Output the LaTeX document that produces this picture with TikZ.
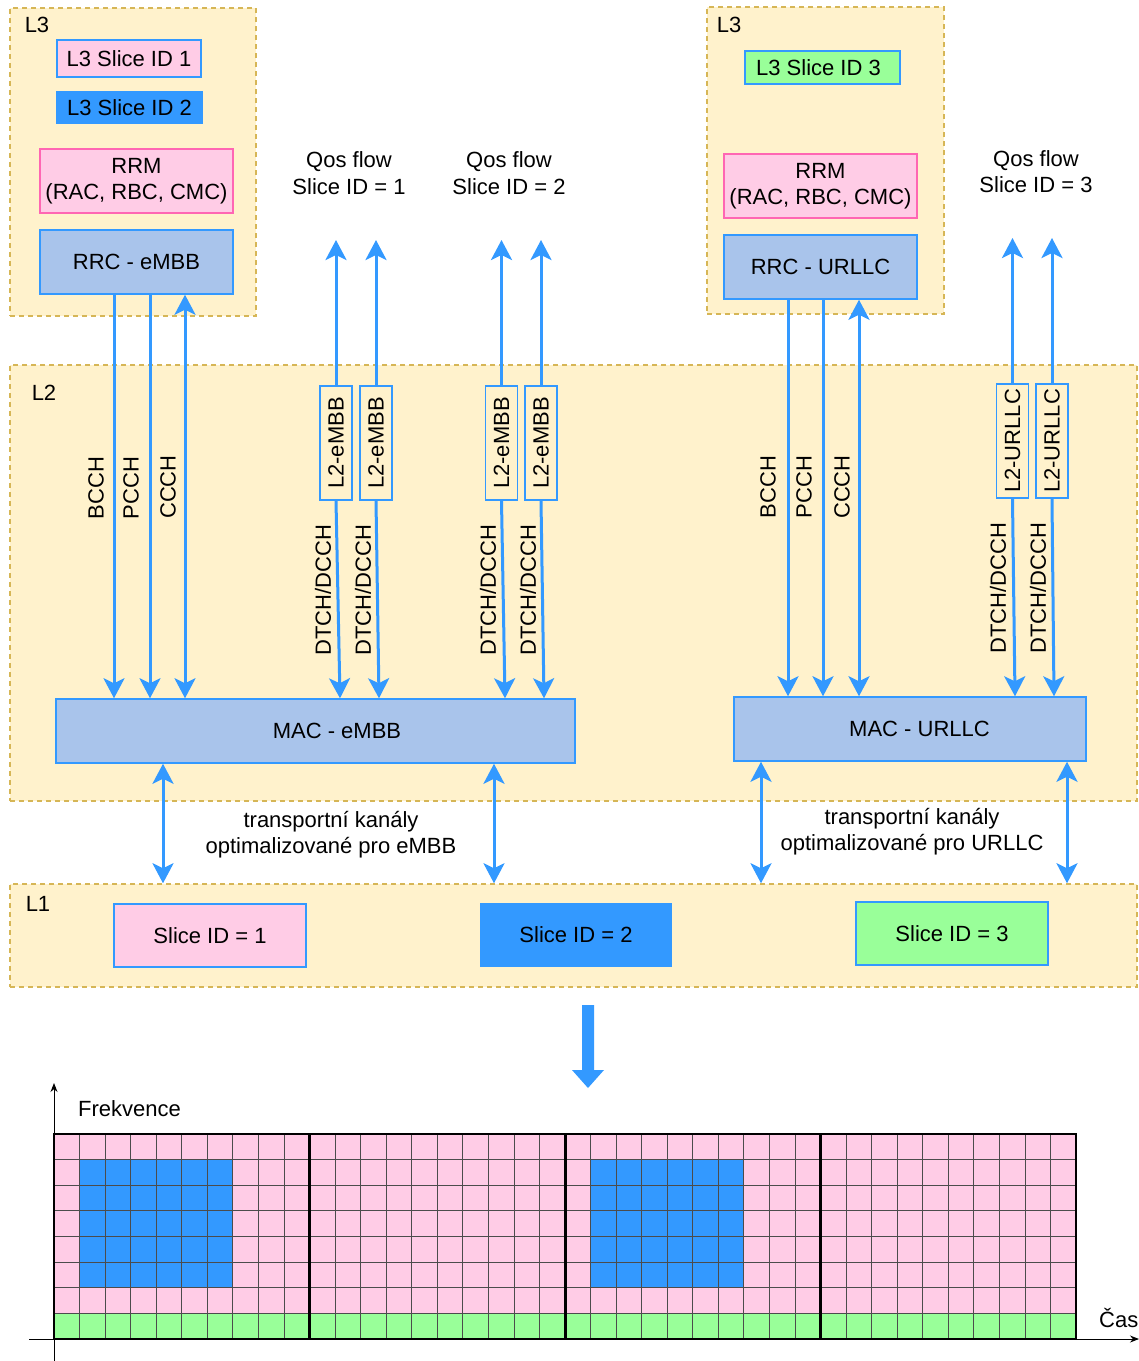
\documentclass[tikz,border=0pt]{standalone}
\usepackage{fontspec}
\setmainfont{Liberation Sans}
\usetikzlibrary{arrows.meta,calc}
\definecolor{lay}{HTML}{FFF2CC}
\definecolor{layb}{HTML}{D6B656}
\definecolor{bl}{HTML}{3399FF}
\definecolor{pk}{HTML}{FFCCE6}
\definecolor{pkb}{HTML}{FF66B3}
\definecolor{rrcc}{HTML}{A9C4EB}
\definecolor{gr}{HTML}{99FF99}
\begin{document}
\begin{tikzpicture}[x=1pt,y=-1pt,
 every node/.style={font=\fontsize{22}{26.5}\selectfont, inner sep=0pt, text=black},
 layer/.style={draw=layb, fill=lay, dash pattern=on 5pt off 4pt, line width=1.5pt},
 bx/.style={draw=bl, line width=1.5pt},
 tipA/.tip={Stealth[length=20pt,width=21pt,inset=5pt]},
 dn/.style={draw=bl, line width=3pt, -tipA},
 bi/.style={draw=bl, line width=3pt, tipA-tipA},
 small/.style={bx, fill=lay, rotate=90, minimum width=114pt, minimum height=32pt},
 lbl/.style={rotate=90}
]
\useasboundingbox (0,0) rectangle (1139,1361);
% layers
\node[layer, minimum width=246pt, minimum height=308pt] (l3a) at (133,162) {};
\node[layer, minimum width=237pt, minimum height=307pt] (l3b) at (825.5,160.5) {};
\node[layer, minimum width=1127pt, minimum height=436pt] (l2) at (573.5,583) {};
\node[layer, minimum width=1127pt, minimum height=103pt] (l1) at (573.5,935.5) {};
\node (t3a) at (37,25) {L3};
\node (t3b) at (729,25) {L3};
\node (t2) at (44,393) {L2};
\node (t1) at (38,904) {L1};
% L3 left
\node[bx, fill=pk, minimum width=144pt, minimum height=37pt] (s1) at (129,58.5) {L3 Slice ID 1};
\node[fill=bl, minimum width=147pt, minimum height=33pt] (s2) at (129.5,107.5) {L3 Slice ID 2};
\node[draw=pkb, line width=1.5pt, fill=pk, minimum width=193pt, minimum height=64pt, align=center] (rrmA) at (136.5,181) {RRM\\(RAC, RBC, CMC)};
\node[bx, fill=rrcc, minimum width=193pt, minimum height=64pt] (rrcA) at (136.5,262) {RRC - eMBB};
% L3 right
\node[bx, fill=gr, minimum width=155pt, minimum height=33pt, label={[xshift=-4pt]center:L3 Slice ID 3}] (s3) at (822.5,67.5) {};
\node[draw=pkb, line width=1.5pt, fill=pk, minimum width=193pt, minimum height=64pt, align=center] (rrmB) at (820.5,186) {RRM\\(RAC, RBC, CMC)};
\node[bx, fill=rrcc, minimum width=193pt, minimum height=64pt] (rrcB) at (820.5,267) {RRC - URLLC};
% MAC
\node[bx, fill=rrcc, minimum width=519pt, minimum height=64pt, label={[xshift=21.5pt]center:MAC - eMBB}] (macA) at (315.5,731) {};
\node[bx, fill=rrcc, minimum width=352pt, minimum height=64pt, label={[xshift=9.5pt]center:MAC - URLLC}] (macB) at (910,729) {};
% L1 slices
\node[bx, fill=pk, minimum width=192pt, minimum height=63pt] (p1) at (210,935.5) {Slice ID = 1};
\node[fill=bl, minimum width=192pt, minimum height=64pt] (p2) at (576,935) {Slice ID = 2};
\node[bx, fill=gr, minimum width=192pt, minimum height=63pt] (p3) at (952,933.5) {Slice ID = 3};
% small L2 boxes
\node[small] (e1) at (336,443) {L2-eMBB};
\node[small] (e2) at (376,443) {L2-eMBB};
\node[small] (e3) at (501.5,443) {L2-eMBB};
\node[small] (e4) at (541,443) {L2-eMBB};
\node[small] (u1) at (1012.5,441) {L2-URLLC};
\node[small] (u2) at (1052,441) {L2-URLLC};
% column coordinates
\coordinate (a1) at (114,0);
\coordinate (a2) at (150,0);
\coordinate (a3) at (185,0);
\coordinate (b1) at (788,0);
\coordinate (b2) at (823,0);
\coordinate (b3) at (859,0);
\coordinate (q1) at (336,240);
\coordinate (q2) at (376,240);
\coordinate (q3) at (501.5,240);
\coordinate (q4) at (541,240);
\coordinate (q5) at (1012.5,238);
\coordinate (q6) at (1052,238);
\coordinate (m1) at (340,0);
\coordinate (m2) at (379,0);
\coordinate (m3) at (505,0);
\coordinate (m4) at (544,0);
\coordinate (m5) at (1015,0);
\coordinate (m6) at (1054,0);
\coordinate (ta) at (163,0);
\coordinate (tb) at (494,0);
\coordinate (tc) at (761,0);
\coordinate (td) at (1067,0);
% control channels
\draw[dn] (rrcA.south -| a1) -- (macA.north -| a1);
\draw[dn] (rrcA.south -| a2) -- (macA.north -| a2);
\draw[bi] (rrcA.south -| a3) -- (macA.north -| a3);
\draw[dn] (rrcB.south -| b1) -- (macB.north -| b1);
\draw[dn] (rrcB.south -| b2) -- (macB.north -| b2);
\draw[bi] (rrcB.south -| b3) -- (macB.north -| b3);
% qos flows
\foreach \bxn/\q/\m/\mm in {e1/q1/macA/m1, e2/q2/macA/m2, e3/q3/macA/m3, e4/q4/macA/m4, u1/q5/macB/m5, u2/q6/macB/m6}{
  \draw[dn] (\bxn.east) -- (\q);
  \draw[dn] (\bxn.west) -- (\m.north -| \mm);
}
% transport channels
\draw[bi] (macA.south -| ta) -- (l1.north -| ta);
\draw[bi] (macA.south -| tb) -- (l1.north -| tb);
\draw[bi] (macB.south -| tc) -- (l1.north -| tc);
\draw[bi] (macB.south -| td) -- (l1.north -| td);
% labels
\node[lbl] (lb1) at (96,488) {BCCH};
\node[lbl] (lb2) at (131,488) {PCCH};
\node[lbl] (lb3) at (168,487) {CCCH};
\node[lbl] (lb4) at (768,487) {BCCH};
\node[lbl] (lb5) at (804,487) {PCCH};
\node[lbl] (lb6) at (842,487) {CCCH};
\node[lbl] (d1) at (323,590) {DTCH/DCCH};
\node[lbl] (d2) at (363,590) {DTCH/DCCH};
\node[lbl] (d3) at (488,590) {DTCH/DCCH};
\node[lbl] (d4) at (528,590) {DTCH/DCCH};
\node[lbl] (d5) at (998,588) {DTCH/DCCH};
\node[lbl] (d6) at (1038,588) {DTCH/DCCH};
\node[align=center] (qf1) at (349,173) {Qos flow\\Slice ID = 1};
\node[align=center] (qf2) at (509,173) {Qos flow\\Slice ID = 2};
\node[align=center] (qf3) at (1036,171.5) {Qos flow\\Slice ID = 3};
\node[align=center] (tr1) at (331,834.5) {transportní kanály\\optimalizované pro eMBB};
\node[align=center] (tr2) at (912,831.5) {transportní kanály\\optimalizované pro URLLC};
% big arrow
\fill[bl] (582,1005) -- (594,1005) -- (594,1070) -- (604,1070) -- (588,1088) -- (572,1070) -- (582,1070) -- cycle;
% resource grid
\def\cw{25.55}
\def\rh{25.625}
\fill[pk] (54,1134) rectangle (1076,{1134+7*\rh});
\fill[gr] (54,{1134+7*\rh}) rectangle (1076,1339);
\fill[bl] ({54+\cw},{1134+\rh}) rectangle ({54+7*\cw},{1134+6*\rh});
\fill[bl] ({54+21*\cw},{1134+\rh}) rectangle ({54+27*\cw},{1134+6*\rh});
\foreach \i in {1,...,39}{\draw[black!70, line width=0.8pt] ({54+\i*\cw},1134) -- ({54+\i*\cw},1339);}
\foreach \j in {1,...,7}{\draw[black!70, line width=0.8pt] (54,{1134+\j*\rh}) -- (1076,{1134+\j*\rh});}
\draw[black, line width=2.5pt] (54,1134) rectangle (1076,1339);
\foreach \k in {10,20,30}{\draw[black, line width=3pt] ({54+\k*\cw},1134) -- ({54+\k*\cw},1339);}
% axes
\draw[black, line width=1pt, -{Stealth[length=9pt,width=7pt]}] (54,1361) -- (54,1083);
\draw[black, line width=1pt, -{Stealth[length=9pt,width=7pt]}] (29,1339) -- (1139,1339);
\node[anchor=west] (fr) at (78,1109) {Frekvence};
\node[anchor=west] (cas) at (1099,1318) {Čas};
\end{tikzpicture}
\end{document}
